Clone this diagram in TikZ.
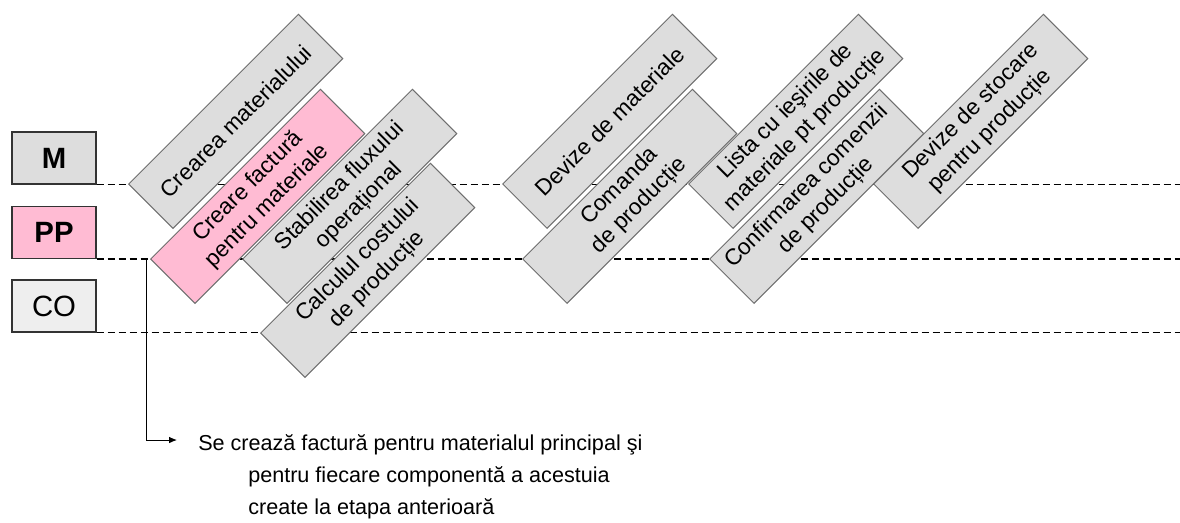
\documentclass[tikz,border=0pt]{standalone}
\usepackage{fontspec}
\setmainfont{Liberation Sans}
\usetikzlibrary{arrows.meta}
\definecolor{boxgray}{HTML}{DDDDDD}
\definecolor{boxpink}{HTML}{FFBBD3}
\definecolor{boxlight}{HTML}{EEEEEE}
\definecolor{edgegray}{HTML}{6E6E6E}
\begin{document}
\begin{tikzpicture}[x=0.75pt,y=-0.75pt,
  lanebox/.style={draw=black!80, line width=0.8pt, minimum width=63pt, minimum height=39pt, inner sep=0pt, font=\fontsize{22}{26}\selectfont},
  lanedash/.style={draw=black, line width=1pt, dash pattern=on 5.25pt off 3pt},
  stepbox/.style={draw=edgegray, fill=boxgray, line width=0.75pt, rotate=45, anchor=north west, minimum width=180pt, minimum height=47pt, inner sep=1pt, align=center, font=\fontsize{17}{20.5}\selectfont},
  note/.style={font=\fontsize{16.2}{19}\selectfont, inner sep=0pt, anchor=base west},
  arr/.style={-{Latex[length=6pt,width=5pt]}, line width=0.75pt}]
\useasboundingbox (0,0) rectangle (1180,522);
% lanes
\node[lanebox, fill=boxgray] (lM) at (54,158) {\bfseries M};
\node[lanebox, fill=boxpink] (lPP) at (54,232.5) {\bfseries PP};
\node[lanebox, fill=boxlight] (lCO) at (54,306) {CO};
\draw[lanedash] (lM.south east) -- ++(1084,0);
\draw[lanedash] (lPP.south east) -- ++(1084,0);
\draw[lanedash] (lCO.south east) -- ++(1084,0);
% steps
\node[stepbox] (b1) at (128,184) {Crearea materialului};
\node[stepbox, fill=boxpink] (b2) at (150,259) {Creare factură\\pentru materiale};
\node[stepbox] (b3) at (242,259) {Stabilirea fluxului\\operațional};
\node[stepbox] (b4) at (260,333) {Calculul costului\\de producție};
\node[stepbox] (b5) at (502,184) {Devize de materiale};
\node[stepbox] (b6) at (522,259) {Comanda\\de producție};
\node[stepbox] (b7) at (688,184) {Lista cu ieşirile de\\materiale pt producție};
\node[stepbox] (b8) at (709,259) {Confirmarea comenzii\\de producție};
\node[stepbox] (b9) at (873,184) {Devize de stocare\\pentru producție};
% note
\node[note] (n1) at (198,450) {Se crează factură pentru materialul principal şi};
\node[note] (n2) at (248,482) {pentru fiecare componentă a acestuia};
\node[note] (n3) at (248,514) {create la etapa anterioară};
\coordinate (c0) at (146,259);
\path (n1.base west) ++(-21,-10) coordinate (c1);
\draw[arr] (c0) |- (c1);
\end{tikzpicture}
\end{document}
